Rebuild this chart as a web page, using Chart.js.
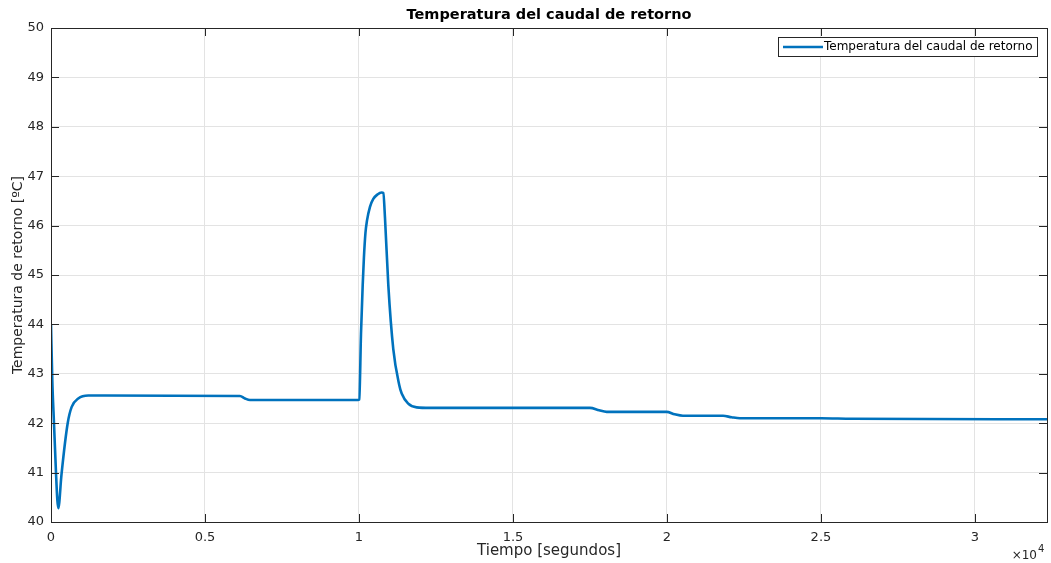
<!DOCTYPE html>
<html>
<head>
<meta charset="utf-8">
<script src="https://cdn.jsdelivr.net/npm/chart.js@4/dist/chart.umd.min.js"></script>
<style>
  html, body { margin: 0; padding: 0; background: #fff; }
  #wrap { width: 1051px; height: 563px; }
</style>
</head>
<body>
<div id="wrap"><canvas id="tempChart" width="1051" height="563"></canvas></div>
<script>
const chartTitle = "Temperatura del caudal de retorno";
const seriesLabel = "Temperatura del caudal de retorno";
const xLabel = "Tiempo [segundos]";
const yLabel = "Temperatura de retorno [ºC]";

// tiempo en segundos
const timeSec = [
  0, 42, 97, 162, 205, 237, 270, 325, 347, 542, 672, 886, 1211, 1753,
  6136, 6300, 6461, 9968, 10010, 10065, 10121, 10160, 10210, 10260, 10357,
  10465, 10600, 10737, 10790, 10845, 10952, 11114, 11309, 11387, 11591, 11874,
  12306, 17500, 17800, 18042, 19990, 20250, 20520, 21820, 22100, 22370,
  25000, 26000, 32340
];
// temperatura de retorno [ºC]
const tempC = [
  44.0, 42.87, 42.0, 41.0, 40.45, 40.28, 40.4, 40.85, 41.0, 42.0, 42.33, 42.5, 42.56, 42.56,
  42.55, 42.50, 42.47, 42.47, 42.48, 43.8, 44.8, 45.35, 45.85, 46.1, 46.38,
  46.54, 46.63, 46.67, 46.66, 46.15, 44.8, 43.5, 42.77, 42.6, 42.40, 42.32,
  42.31, 42.31, 42.26, 42.23, 42.23, 42.18, 42.15, 42.15, 42.12, 42.10,
  42.10, 42.09, 42.08
];

const xTicks = [0, 5000, 10000, 15000, 20000, 25000, 30000];
const yTicks = [40, 41, 42, 43, 44, 45, 46, 47, 48, 49, 50];
const xMin = 0;
const xMax = 32340;

const lineColor = "#0072BD";
const axisColor = "#262626";
const gridColor = "#e3e3e3";
const fontFamily = "'DejaVu Sans', sans-serif";

const points = timeSec.map((t, i) => ({ x: t, y: tempC[i] }));

const framePlugin = {
  id: "frame",
  afterDraw(chart) {
    const ctx = chart.ctx;
    const a = chart.chartArea;
    const xs = chart.scales.x;
    const ys = chart.scales.y;
    const tick = 8;
    ctx.save();

    // ticks hacia dentro en los cuatro lados
    ctx.strokeStyle = axisColor;
    ctx.lineWidth = 1;
    ctx.beginPath();
    xs.ticks.forEach((t) => {
      const px = Math.round(xs.getPixelForValue(t.value)) + 0.5;
      ctx.moveTo(px, a.bottom);
      ctx.lineTo(px, a.bottom - tick);
      ctx.moveTo(px, a.top);
      ctx.lineTo(px, a.top + tick);
    });
    ys.ticks.forEach((t) => {
      const py = Math.round(ys.getPixelForValue(t.value)) + 0.5;
      ctx.moveTo(a.left, py);
      ctx.lineTo(a.left + tick, py);
      ctx.moveTo(a.right, py);
      ctx.lineTo(a.right - tick, py);
    });
    ctx.stroke();

    // marco
    ctx.strokeRect(Math.round(a.left) + 0.5, Math.round(a.top) + 0.5,
      Math.round(a.right - a.left), Math.round(a.bottom - a.top));

    // titulo
    ctx.fillStyle = "#000";
    ctx.font = "bold 14.5px " + fontFamily;
    ctx.textAlign = "center";
    ctx.textBaseline = "middle";
    ctx.fillText(chartTitle, (a.left + a.right) / 2, 15);

    // leyenda
    const lx = 778, ly = 37, lw = 259, lh = 19;
    ctx.fillStyle = "#fff";
    ctx.fillRect(lx, ly, lw, lh);
    ctx.strokeStyle = axisColor;
    ctx.strokeRect(lx + 0.5, ly + 0.5, lw, lh);
    ctx.strokeStyle = lineColor;
    ctx.lineWidth = 2.5;
    ctx.beginPath();
    ctx.moveTo(lx + 5, ly + 10);
    ctx.lineTo(lx + 45, ly + 10);
    ctx.stroke();
    ctx.fillStyle = "#000";
    ctx.font = "12px " + fontFamily;
    ctx.textAlign = "left";
    ctx.fillText(chart.data.datasets[0].label, lx + 46, ly + 10);

    // multiplicador x10^4
    ctx.fillStyle = axisColor;
    ctx.font = "12px " + fontFamily;
    ctx.textAlign = "right";
    ctx.fillText("\u00d710", a.right - 10, 556);
    ctx.font = "10px " + fontFamily;
    ctx.textAlign = "left";
    ctx.fillText("4", a.right - 9, 549);

    ctx.restore();
  }
};

new Chart(document.getElementById("tempChart").getContext("2d"), {
  type: "line",
  data: {
    datasets: [{
      label: seriesLabel,
      data: points,
      borderColor: lineColor,
      backgroundColor: "transparent",
      borderWidth: 2.6,
      pointRadius: 0,
      cubicInterpolationMode: "monotone",
      fill: false
    }]
  },
  options: {
    responsive: false,
    animation: false,
    layout: { padding: { top: 28, right: 4, left: 0, bottom: 0 } },
    plugins: {
      legend: { display: false },
      title: { display: false },
      tooltip: { enabled: false }
    },
    scales: {
      x: {
        type: "linear",
        min: xMin,
        max: xMax,
        afterBuildTicks: (s) => { s.ticks = xTicks.map((v) => ({ value: v })); },
        afterFit: (s) => { s.height = 41; },
        grid: { color: gridColor, drawTicks: false },
        border: { display: false },
        ticks: {
          padding: 8,
          color: axisColor,
          font: { family: fontFamily, size: 13 },
          maxRotation: 0,
          autoSkip: false,
          callback: (v) => String(v / 1e4)
        },
        title: {
          display: true,
          text: xLabel,
          color: axisColor,
          font: { family: fontFamily, size: 15 },
          padding: { top: 3, bottom: 3 }
        }
      },
      y: {
        min: yTicks[0],
        max: yTicks[yTicks.length - 1],
        afterBuildTicks: (s) => { s.ticks = yTicks.map((v) => ({ value: v })); },
        afterFit: (s) => { s.width = 51; },
        grid: { color: gridColor, drawTicks: false },
        border: { display: false },
        ticks: {
          padding: 7,
          color: axisColor,
          font: { family: fontFamily, size: 13 }
        },
        title: {
          display: true,
          text: yLabel,
          color: axisColor,
          font: { family: fontFamily, size: 14 },
          padding: { top: 10, bottom: 10 }
        }
      }
    }
  },
  plugins: [framePlugin]
});
</script>
</body>
</html>
